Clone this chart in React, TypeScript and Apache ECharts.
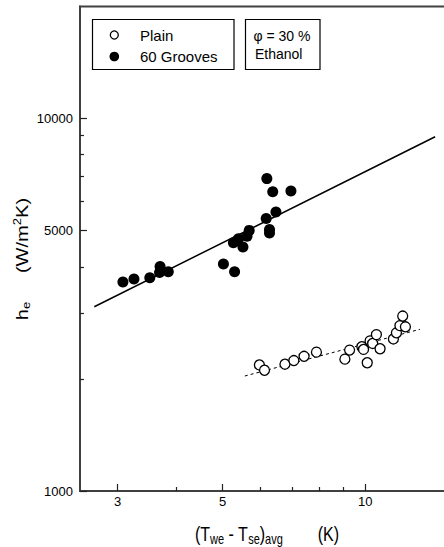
import React, { useEffect, useRef } from 'react';
import * as echarts from 'echarts';

// ---- data ----
const groovesX = [3.08, 3.25, 3.51, 3.68, 3.69, 3.84, 5.02, 5.30, 5.27, 5.40, 5.52, 5.63, 5.69, 6.18, 6.20, 6.28, 6.28, 6.38, 6.48, 6.97];
const groovesY = [3640, 3710, 3740, 3860, 4010, 3880, 4070, 3880, 4640, 4760, 4520, 4830, 5010, 5390, 6900, 5040, 4930, 6360, 5610, 6390];
const plainX = [5.98, 6.13, 6.77, 7.07, 7.43, 7.89, 9.06, 9.27, 9.84, 9.92, 10.10, 10.24, 10.37, 10.56, 10.75, 11.47, 11.64, 11.84, 12.00, 12.16];
const plainY = [2180, 2110, 2190, 2240, 2300, 2360, 2260, 2390, 2440, 2400, 2210, 2530, 2490, 2630, 2410, 2560, 2660, 2780, 2950, 2760];
const groovesFitX = [2.68, 14.05];
const groovesFitY = [3125, 8940];
const plainFitX = [5.57, 13.05];
const plainFitY = [2036, 2718];
const xMajorTicks = [3, 5, 10];
const xMinorTicks = [4, 6, 7, 8, 9];
const yMajorTicks = [1000, 5000, 10000];
const yMinorTicks = [2000, 3000, 4000, 6000, 7000, 8000, 9000];
const xRange = [2.5, 15];
const yRange = [1000, 20000];
const legendNames = ['Plain', '60 Grooves'];
const noteLines = ['φ = 30 %', 'Ethanol'];

const lg = (v: number) => Math.log10(v);
const pairs = (xs: number[], ys: number[]) => xs.map((x, i) => [lg(x), lg(ys[i])]);

const FONT = '"Liberation Sans", Arial, Helvetica, sans-serif';
const AXIS_COLOR = '#404040';
const TICK_COLOR = '#222';

export default function App() {
  const ref = useRef<HTMLDivElement>(null);

  useEffect(() => {
    if (!ref.current) return;
    const chart = echarts.init(ref.current, undefined, { renderer: 'svg' });

    const xMin = lg(xRange[0]);
    const xMax = lg(xRange[1]);
    const yMin = lg(yRange[0]);
    const yMax = lg(yRange[1]);

    const fmt = (v: number) => String(Math.round(Math.pow(10, v)));

    const option: any = {
      animation: false,
      textStyle: { fontFamily: FONT, color: '#000' },
      grid: {
        left: 80,
        top: 6.5,
        right: -4.6,
        bottom: 56,
        show: true,
        borderColor: AXIS_COLOR,
        borderWidth: 2,
        containLabel: false,
        outerBoundsMode: 'none',
      },
      xAxis: [
        {
          type: 'value',
          min: xMin,
          max: xMax,
          position: 'bottom',
          axisLine: { show: true, lineStyle: { color: AXIS_COLOR, width: 2 } },
          axisTick: {
            show: true,
            inside: true,
            length: 7,
            customValues: xMajorTicks.map(lg),
            lineStyle: { color: TICK_COLOR, width: 1.2 },
          },
          axisLabel: {
            show: true,
            customValues: xMajorTicks.map(lg),
            formatter: fmt,
            fontSize: 13,
            color: '#000',
            margin: 4,
            fontFamily: FONT,
          },
          splitLine: { show: false },
        },
        {
          type: 'value',
          min: xMin,
          max: xMax,
          position: 'bottom',
          axisLine: { show: false },
          axisTick: {
            show: true,
            inside: true,
            length: 4,
            customValues: xMinorTicks.map(lg),
            lineStyle: { color: TICK_COLOR, width: 1.2 },
          },
          axisLabel: { show: false },
          splitLine: { show: false },
        },
      ],
      yAxis: [
        {
          type: 'value',
          min: yMin,
          max: yMax,
          position: 'left',
          axisLine: { show: true, lineStyle: { color: AXIS_COLOR, width: 2 } },
          axisTick: {
            show: true,
            inside: true,
            length: 7,
            customValues: yMajorTicks.map(lg),
            lineStyle: { color: TICK_COLOR, width: 1.2 },
          },
          axisLabel: {
            show: true,
            customValues: yMajorTicks.map(lg),
            formatter: fmt,
            fontSize: 13,
            color: '#000',
            margin: 7,
            fontFamily: FONT,
          },
          splitLine: { show: false },
        },
        {
          type: 'value',
          min: yMin,
          max: yMax,
          position: 'left',
          axisLine: { show: false },
          axisTick: {
            show: true,
            inside: true,
            length: 4,
            customValues: yMinorTicks.map(lg),
            lineStyle: { color: TICK_COLOR, width: 1.2 },
          },
          axisLabel: { show: false },
          splitLine: { show: false },
        },
      ],
      series: [
        {
          name: '60 Grooves fit',
          type: 'line',
          xAxisIndex: 0,
          yAxisIndex: 0,
          data: pairs(groovesFitX, groovesFitY),
          showSymbol: false,
          symbol: 'none',
          lineStyle: { color: '#000', width: 1.5 },
          z: 2,
        },
        {
          name: 'Plain fit',
          type: 'line',
          xAxisIndex: 0,
          yAxisIndex: 0,
          data: pairs(plainFitX, plainFitY),
          showSymbol: false,
          symbol: 'none',
          lineStyle: { color: '#000', width: 1, type: [3, 3] },
          z: 2,
        },
        {
          name: legendNames[1],
          type: 'scatter',
          xAxisIndex: 0,
          yAxisIndex: 0,
          data: pairs(groovesX, groovesY),
          symbol: 'circle',
          symbolSize: 11,
          itemStyle: { color: '#000', opacity: 1 },
          z: 3,
        },
        {
          name: legendNames[0],
          type: 'scatter',
          xAxisIndex: 0,
          yAxisIndex: 0,
          data: pairs(plainX, plainY),
          symbol: 'circle',
          symbolSize: 10,
          itemStyle: { color: '#fff', borderColor: '#000', borderWidth: 1.3, opacity: 1 },
          z: 3,
        },
      ],
      graphic: [
        // legend box
        {
          type: 'rect',
          shape: { x: 92.5, y: 19.5, width: 141.5, height: 50 },
          style: { fill: '#fff', stroke: '#000', lineWidth: 1.2 },
          z: 10,
        },
        {
          type: 'circle',
          shape: { cx: 114.3, cy: 35, r: 4 },
          style: { fill: '#fff', stroke: '#000', lineWidth: 1.3 },
          z: 11,
        },
        {
          type: 'circle',
          shape: { cx: 114.3, cy: 56.5, r: 4.8 },
          style: { fill: '#000' },
          z: 11,
        },
        {
          type: 'text',
          x: 140,
          y: 35.5,
          style: { text: legendNames[0], fontSize: 15, fontFamily: FONT, fill: '#000', align: 'left', verticalAlign: 'middle' },
          z: 11,
        },
        {
          type: 'text',
          x: 140,
          y: 56.5,
          style: { text: legendNames[1], fontSize: 15, fontFamily: FONT, fill: '#000', align: 'left', verticalAlign: 'middle' },
          z: 11,
        },
        // note box
        {
          type: 'rect',
          shape: { x: 245.5, y: 19.5, width: 74.5, height: 50 },
          style: { fill: '#fff', stroke: '#000', lineWidth: 1.2 },
          z: 10,
        },
        {
          type: 'text',
          x: 253.5,
          y: 35.5,
          style: { text: noteLines[0], fontSize: 14, fontFamily: FONT, fill: '#000', align: 'left', verticalAlign: 'middle' },
          z: 11,
        },
        {
          type: 'text',
          x: 255,
          y: 54,
          style: { text: noteLines[1], fontSize: 14, fontFamily: FONT, fill: '#000', align: 'left', verticalAlign: 'middle' },
          z: 11,
        },
        // x axis title
        {
          type: 'text',
          x: 195,
          y: 534,
          scaleY: 1.25,
          style: {
            text: '{m|(T}{s|we}{m| - T}{s|se}{m|)}{s|avg}',
            align: 'left',
            verticalAlign: 'middle',
            fill: '#000',
            fontFamily: FONT,
            rich: {
              m: { fontSize: 16, lineHeight: 20, fontFamily: FONT, fill: '#000' },
              s: { fontSize: 11, lineHeight: 11, fontFamily: FONT, fill: '#000', verticalAlign: 'bottom' },
            },
          },
          z: 11,
        },
        {
          type: 'text',
          x: 317.7,
          y: 534,
          scaleY: 1.25,
          style: { text: '(K)', fontSize: 16, fontFamily: FONT, fill: '#000', align: 'left', verticalAlign: 'middle' },
          z: 11,
        },
        // y axis title
        {
          type: 'text',
          x: 22,
          y: 311,
          rotation: Math.PI / 2,
          scaleX: 1.18,
          style: {
            text: '{m|h}{s|e}',
            align: 'center',
            verticalAlign: 'middle',
            fill: '#000',
            fontFamily: FONT,
            rich: {
              m: { fontSize: 17, lineHeight: 20, fontFamily: FONT, fill: '#000' },
              s: { fontSize: 11, lineHeight: 11, fontFamily: FONT, fill: '#000', verticalAlign: 'bottom' },
            },
          },
          z: 11,
        },
        {
          type: 'text',
          x: 22,
          y: 235.5,
          rotation: Math.PI / 2,
          scaleX: 1.18,
          style: {
            text: '{m|(W/m}{p|2}{m|K)}',
            align: 'center',
            verticalAlign: 'middle',
            fill: '#000',
            fontFamily: FONT,
            rich: {
              m: { fontSize: 17, lineHeight: 20, fontFamily: FONT, fill: '#000' },
              p: { fontSize: 11, lineHeight: 11, fontFamily: FONT, fill: '#000', verticalAlign: 'top' },
            },
          },
          z: 11,
        },
      ],
    };

    chart.setOption(option);
    return () => chart.dispose();
  }, []);

  return (
    <div
      ref={ref}
      style={{ position: 'fixed', left: 0, top: 0, width: 444, height: 547, background: '#fff' }}
    />
  );
}
